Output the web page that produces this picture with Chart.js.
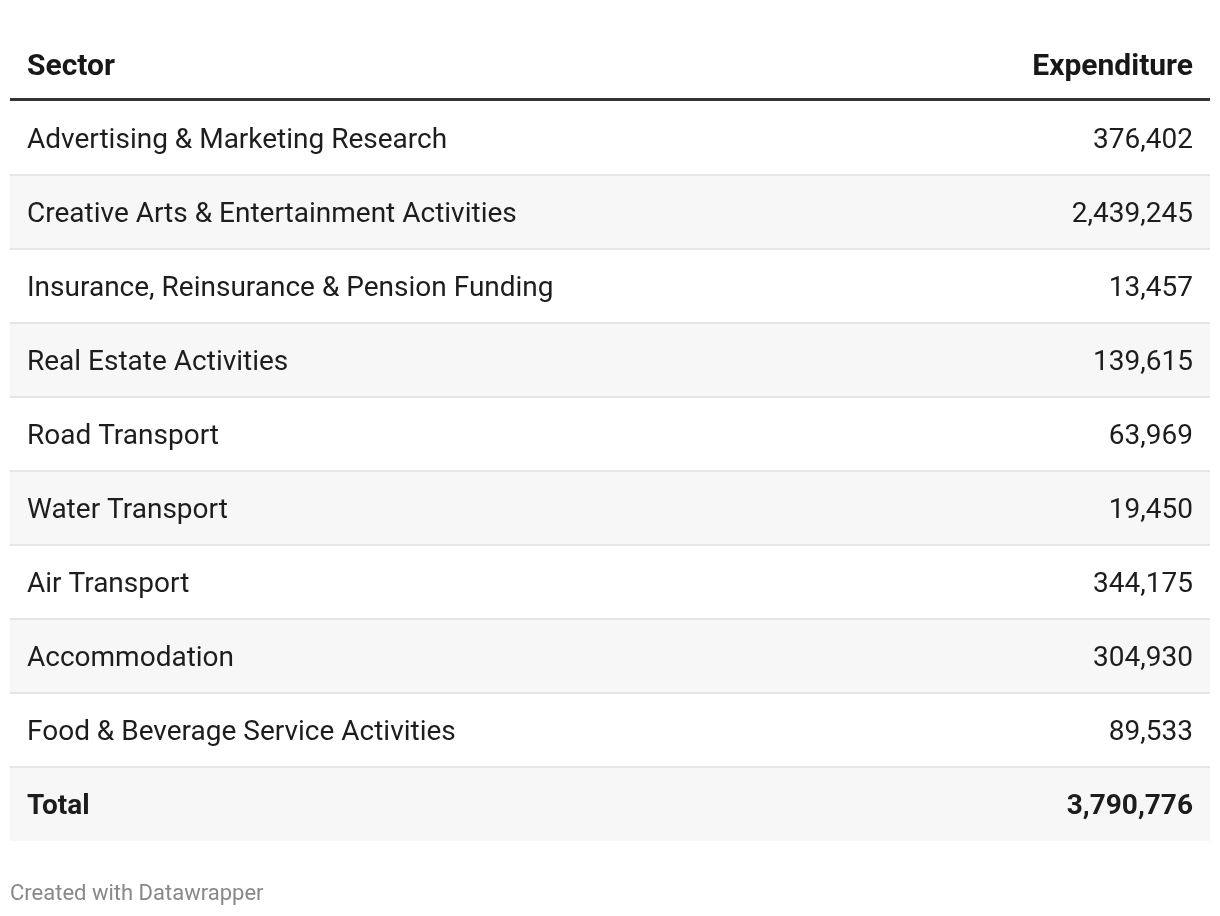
<!DOCTYPE html>
<html>
<head>
<meta charset="utf-8">
<script src="https://cdn.jsdelivr.net/npm/chart.js@4.4.1/dist/chart.umd.min.js"></script>
<style>
  html, body { margin: 0; padding: 0; background: #fff; }
  #wrap { width: 1220px; height: 916px; }
</style>
</head>
<body>
<div id="wrap"><canvas id="myChart" width="1220" height="916"></canvas></div>
<script>
const headers = ['Sector', 'Expenditure'];
const sectors = [
    'Advertising & Marketing Research',
    'Creative Arts & Entertainment Activities',
    'Insurance, Reinsurance & Pension Funding',
    'Real Estate Activities',
    'Road Transport',
    'Water Transport',
    'Air Transport',
    'Accommodation',
    'Food & Beverage Service Activities'
];
const expenditure = [376402, 2439245, 13457, 139615, 63969, 19450, 344175, 304930, 89533];
const totalLabel = 'Total';
const totalValue = 3790776;
const footer = 'Created with Datawrapper';

const rowLabels = sectors.concat([totalLabel]);
const rowValues = expenditure.concat([totalValue]);

const FONT = 'Roboto, "Noto Sans", sans-serif';
const TEXT = '#1d1d1d';

// header, cell texts, separators and footer, placed from the y scale
const tablePlugin = {
    id: 'tableText',
    afterDraw(chart) {
        const ctx = chart.ctx;
        const area = chart.chartArea;
        const y = chart.scales.y;
        const padX = 17;
        ctx.save();
        ctx.textBaseline = 'alphabetic';

        // row separators
        ctx.strokeStyle = '#e5e5e5';
        ctx.lineWidth = 2;
        for (let i = 1; i < rowLabels.length; i++) {
            const yy = Math.round((y.getPixelForValue(i - 1) + y.getPixelForValue(i)) / 2);
            ctx.beginPath();
            ctx.moveTo(area.left, yy);
            ctx.lineTo(area.right, yy);
            ctx.stroke();
        }

        // header
        ctx.fillStyle = '#181818';
        ctx.font = 'bold 30px ' + FONT;
        ctx.textAlign = 'left';
        ctx.fillText(headers[0], area.left + padX, 75);
        ctx.textAlign = 'right';
        ctx.fillText(headers[1], area.right - padX, 75);

        ctx.strokeStyle = '#333333';
        ctx.lineWidth = 3;
        ctx.beginPath();
        ctx.moveTo(area.left, area.top - 1.5);
        ctx.lineTo(area.right, area.top - 1.5);
        ctx.stroke();

        // cells
        rowLabels.forEach((label, i) => {
            const py = y.getPixelForValue(i) + 10;
            const isTotal = i === rowLabels.length - 1;
            ctx.font = (isTotal ? 'bold ' : '') + '28px ' + FONT;
            ctx.fillStyle = TEXT;
            ctx.textAlign = 'left';
            ctx.fillText(label, area.left + padX, py);
            ctx.textAlign = 'right';
            ctx.fillText(rowValues[i].toLocaleString('en-US'), area.right - padX, py);
        });

        // footer
        ctx.font = '22px ' + FONT;
        ctx.fillStyle = '#888888';
        ctx.textAlign = 'left';
        ctx.fillText(footer, area.left, 900);
        ctx.restore();
    }
};

const chart = new Chart(document.getElementById('myChart'), {
    type: 'bar',
    data: {
        labels: rowLabels,
        datasets: [{
            data: rowLabels.map(() => [0, 1]),
            backgroundColor: rowLabels.map((_, i) => i % 2 === 1 ? '#f7f7f7' : '#ffffff'),
            borderWidth: 0,
            barPercentage: 1,
            categoryPercentage: 1
        }]
    },
    options: {
        indexAxis: 'y',
        responsive: false,
        animation: false,
        layout: { padding: { left: 10, right: 10, top: 101, bottom: 75 } },
        plugins: {
            legend: { display: false },
            tooltip: { enabled: false }
        },
        scales: {
            x: { display: false, min: 0, max: 1 },
            y: { display: false, offset: true }
        }
    },
    plugins: [tablePlugin]
});
</script>
</body>
</html>
